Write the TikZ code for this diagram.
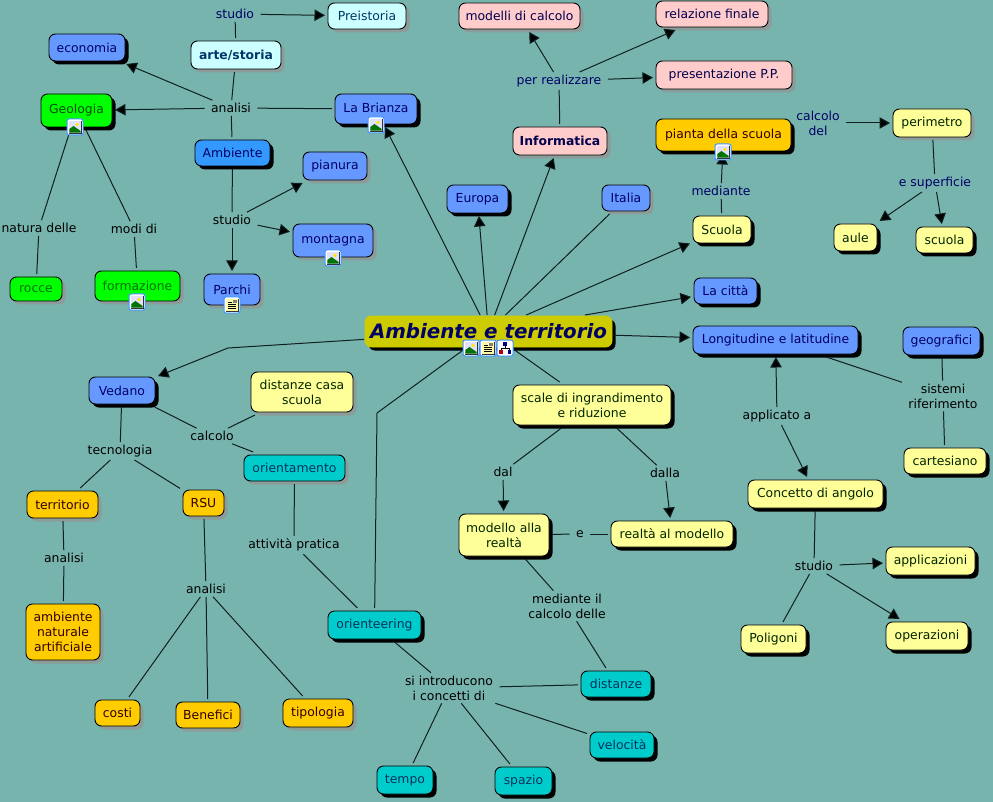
\documentclass[tikz,border=0pt]{standalone}
\usepackage{fontspec}
\setmainfont{DejaVu Sans}
\usetikzlibrary{arrows.meta,shadows}
\definecolor{bgteal}{HTML}{78B4AE}
\definecolor{gshadow}{HTML}{8C9C9A}
\definecolor{cblue}{HTML}{6699FF}
\definecolor{cdeep}{HTML}{3399FF}
\definecolor{cgreen}{HTML}{00FF00}
\definecolor{cyell}{HTML}{FFFF99}
\definecolor{corange}{HTML}{FFCC00}
\definecolor{cpink}{HTML}{FFCCCC}
\definecolor{cpale}{HTML}{CCFFFF}
\definecolor{cteal}{HTML}{00CCCC}
\definecolor{colive}{HTML}{CCCC00}
\definecolor{navy}{HTML}{000066}
\definecolor{lineink}{HTML}{102020}
\newcommand{\nodefont}{\fontsize{12.4}{15}\selectfont}
\tikzset{
  concept/.style={rectangle,rounded corners=6.5pt,draw=black,line width=0.9pt,inner sep=0pt,outer sep=3pt,align=center,font=\nodefont},
  gs/.style={general shadow={fill=gshadow,shadow xshift=3.5pt,shadow yshift=-3.5pt}},
  ks/.style={general shadow={fill=black,shadow xshift=3.5pt,shadow yshift=-3.5pt}},
  pblue/.style={fill=cblue,text=navy},
  pdeep/.style={fill=cdeep,text=navy},
  pgreen/.style={fill=cgreen,text=black!70!green},
  plgreen/.style={fill=cgreen,text=green!45!black},
  pyell/.style={fill=cyell,text=black!85!green},
  porange/.style={fill=corange,text=black!80!red},
  ppink/.style={fill=cpink,text=navy!75!black},
  ppale/.style={fill=cpale,text=navy!70!cyan!70!black},
  pteal/.style={fill=cteal,text=navy!50!teal!80!black},
  lbl/.style={inner xsep=5pt,inner ysep=1.5pt,outer sep=1.5pt,align=center,font=\nodefont,text=black},
  lbln/.style={lbl,text=navy},
  link/.style={draw=lineink,line width=1pt},
  arr/.style={link,-{Triangle[length=10.5pt,width=11.5pt,fill=black]}},
  pics/iconframe/.style={code={
    \fill[white,draw=blue!55!cyan!75,line width=1pt,rounded corners=2pt] (-8,-8) rectangle (8,8);
    \draw[black!80,line width=0.7pt,fill=white] (-6,-6) rectangle (6,6);
  }},
  pics/imgicon/.style={code={
    \pic {iconframe};
    \fill[blue!12] (-5.6,-5.6) rectangle (5.6,5.6);
    \fill[green!45!black] (-5.6,5.6) -- (-5.6,2) -- (-1.5,-1) -- (5.6,4) -- (5.6,5.6) -- cycle;
    \fill[yellow!90!orange] (2,-2.5) circle (1.8);
  }},
  pics/docicon/.style={code={
    \pic {iconframe};
    \fill[yellow!35] (-5.6,-5.6) rectangle (5.6,5.6);
    \foreach \yy in {-1,1,3}{\draw[black,line width=0.7pt] (-4,\yy) -- (4,\yy);}
    \draw[black,line width=0.7pt] (-4,-3) -- (-0.5,-3);
    \fill[gray] (0.5,-5) rectangle (4.5,-1.8);
  }},
  pics/treeicon/.style={code={
    \fill[white,draw=blue!55!cyan!75,line width=1pt,rounded corners=2pt] (-8,-8) rectangle (8,8);
    \draw[black,line width=0.6pt] (0,-3) -- (0,0) (-4,3) -- (-4,0) -- (4,0) -- (4,3);
    \fill[navy!80!blue] (-1.8,-6) rectangle (1.8,-2.5);
    \fill[red!70!black] (-6,2) rectangle (-2.5,5.5);
    \fill[navy!80!blue] (2.5,2) rectangle (6,5.5);
  }},
}
\newcommand{\cn}[7][]{\node[concept,#2,#1,minimum width={(#5-#3)*1pt},minimum height={(#6-#4)*1pt}] (#7) at ({(#3+#5)/2},{(#4+#6)/2})}
\newcommand{\up}[1]{\raisebox{1.5pt}{#1}}
\begin{document}
\begin{tikzpicture}[x=1pt,y=-1pt]
\fill[bgteal] (0,0) rectangle (993,802);
\useasboundingbox (0,0) rectangle (993,802);
% concepts
\cn[gs]{ppale}{328}{3}{406}{29}{preistoria} {Preistoria};
\cn[gs]{ppale,font=\nodefont\bfseries}{191}{41}{281}{69}{arte} {arte/storia};
\cn[ks]{pblue}{49}{34}{125}{61}{economia} {economia};
\cn[ks]{pgreen}{41}{94}{112}{127}{geologia} {\up{Geologia}};
\cn[ks]{pblue}{335}{94}{417}{124}{brianza} {\up{La Brianza}};
\cn[ks]{pdeep}{195}{140}{270}{166}{ambiente} {Ambiente};
\cn[gs]{pblue}{303}{152}{367}{180}{pianura} {pianura};
\cn[gs]{pblue}{293}{224}{373}{257}{montagna} {montagna};
\cn[gs]{pblue}{204}{274}{260}{305}{parchi} {Parchi};
\cn[gs]{plgreen}{10}{277}{62}{301}{rocce} {rocce};
\cn[gs]{plgreen}{95}{271}{180}{301}{formazione} {formazione};
\cn[gs]{ppink}{459}{3}{580}{29}{modelli} {modelli di calcolo};
\cn[gs]{ppink}{656}{1}{768}{27}{relazione} {relazione finale};
\cn[gs]{ppink}{656}{61}{792}{89}{presentazione} {presentazione P.P.};
\cn[gs]{ppink,font=\nodefont\bfseries}{513}{127}{607}{155}{informatica} {Informatica};
\cn[ks]{pblue}{447}{185}{508}{213}{europa} {Europa};
\cn[gs]{pblue}{602}{185}{650}{211}{italia} {Italia};
\cn[ks]{porange}{656}{119}{791}{151}{pianta} {\up{pianta della scuola}};
\cn[ks]{pyell}{693}{216}{751}{243}{scuolaA} {Scuola};
\cn[gs]{pyell}{893}{109}{971}{137}{perimetro} {perimetro};
\cn[ks]{pyell}{834}{224}{877}{251}{aule} {aule};
\cn[ks]{pyell}{916}{227}{973}{253}{scuolaB} {scuola};
\cn[ks]{pblue}{694}{278}{757}{304}{citta} {La città};
\cn[ks]{pblue}{693}{326}{858}{354}{longitudine} {Longitudine e latitudine};
\cn[ks]{pblue}{903}{327}{980}{355}{geografici} {geografici};
\cn[ks]{pblue}{89}{377}{155}{404}{vedano} {Vedano};
\cn[gs]{pyell}{251}{372}{353}{412}{casa} {distanze casa\\scuola};
\cn[gs]{pteal}{244}{455}{345}{481}{orientamento} {orientamento};
\cn[gs]{porange}{27}{491}{98}{518}{territorio} {territorio};
\cn[gs]{porange}{183}{490}{224}{516}{rsu} {RSU};
\cn[gs]{porange}{26}{604}{100}{660}{naturale} {ambiente\\naturale\\artificiale};
\cn[gs]{porange}{95}{700}{140}{726}{costi} {costi};
\cn[gs]{porange}{176}{702}{240}{728}{benefici} {Benefici};
\cn[gs]{porange}{283}{699}{353}{727}{tipologia} {tipologia};
\cn[ks]{pteal}{328}{611}{421}{639}{orienteering} {orienteering};
\cn[ks]{pyell}{513}{385}{671}{425}{scale} {scale di ingrandimento\\e riduzione};
\cn[ks]{pyell}{459}{514}{549}{556}{modello} {modello alla\\realtà};
\cn[ks]{pyell}{611}{521}{733}{547}{realta} {realtà al modello};
\cn[ks]{pteal}{581}{671}{651}{697}{distanze} {distanze};
\cn[ks]{pteal}{590}{732}{654}{758}{velocita} {velocità};
\cn[ks]{pteal}{377}{766}{433}{794}{tempo} {tempo};
\cn[ks]{pteal}{495}{767}{552}{795}{spazio} {spazio};
\cn[ks]{pyell}{748}{480}{883}{508}{angolo} {Concetto di angolo};
\cn[ks]{pyell}{904}{448}{986}{474}{cartesiano} {cartesiano};
\cn[ks]{pyell}{886}{547}{975}{575}{applicazioni} {applicazioni};
\cn[ks]{pyell}{886}{622}{968}{650}{operazioni} {operazioni};
\cn[ks]{pyell}{741}{625}{806}{653}{poligoni} {Poligoni};
\cn[ks]{colive,fill=colive,text=navy,outer sep=1pt,font=\fontsize{19.8}{22}\selectfont\bfseries\itshape}{365}{316}{612}{347}{main} {Ambiente e territorio};
% linking phrases
\node[lbln] (lstudioA) at (235,14) {studio};
\node[lbl] (lanalisiA) at (231,108) {analisi};
\node[lbl] (lnatura) at (39,228) {natura delle};
\node[lbl] (lmodi) at (134,229) {modi di};
\node[lbl] (lstudioB) at (232,220) {studio};
\node[lbln] (lrealizzare) at (559,81) {per realizzare};
\node[lbln] (lmediante) at (721,191) {mediante};
\node[lbln] (lcalcolodel) at (818,123) {calcolo\\del};
\node[lbln] (lsuperficie) at (935,183) {e superficie};
\node[lbl] (ltecnologia) at (120,451) {tecnologia};
\node[lbl] (lcalcolo) at (212,436) {calcolo};
\node[lbl] (lanalisiB) at (64,558) {analisi};
\node[lbl] (lanalisiC) at (206,589) {analisi};
\node[lbl] (lpratica) at (294,545) {attività pratica};
\node[lbl] (ldal) at (503,472) {dal};
\node[lbl] (ldalla) at (665,473) {dalla};
\node[lbl] (le) at (580,534) {e};
\node[lbl] (lmedianteil) at (567,606) {mediante il\\calcolo delle};
\node[lbl] (lintro) at (449,688) {si introducono\\i concetti di};
\node[lbl] (lapplicato) at (777,416) {applicato a};
\node[lbl] (lsistemi) at (943,396) {sistemi\\riferimento};
\node[lbl] (lstudioC) at (814,566) {studio};
\coordinate (bendV) at (228,348);
\coordinate (bendO) at (377,413);
% connectors
\draw[link] (arte) -- (lstudioA);
\draw[arr] (lstudioA) -- (preistoria);
\draw[link] (arte) -- (lanalisiA);
\draw[link] (brianza) -- (lanalisiA);
\draw[arr] (lanalisiA) -- (geologia);
\draw[arr] (lanalisiA) -- (economia);
\draw[link] (lanalisiA) -- (ambiente);
\draw[arr] (main) -- (brianza);
\draw[link] (ambiente) -- (lstudioB);
\draw[arr] (lstudioB) -- (pianura);
\draw[arr] (lstudioB) -- (montagna);
\draw[arr] (lstudioB) -- (parchi);
\draw[link] (geologia) -- (lnatura);
\draw[link] (lnatura) -- (rocce);
\draw[link] (geologia) -- (lmodi);
\draw[link] (lmodi) -- (formazione);
\draw[arr] (main) -- (informatica);
\draw[arr] (main) -- (europa);
\draw[link] (main) -- (italia);
\draw[arr] (main) -- (scuolaA);
\draw[arr] (main) -- (citta);
\draw[arr] (main) -- (longitudine);
\draw[link] (informatica) -- (lrealizzare);
\draw[arr] (lrealizzare) -- (modelli);
\draw[arr] (lrealizzare) -- (relazione);
\draw[arr] (lrealizzare) -- (presentazione);
\draw[link] (scuolaA) -- (lmediante);
\draw[arr] (lmediante) -- (pianta);
\draw[arr] (lcalcolodel) -- (perimetro);
\draw[link] (perimetro) -- (lsuperficie);
\draw[arr] (lsuperficie) -- (aule);
\draw[arr] (lsuperficie) -- (scuolaB);
\draw[link] (longitudine) -- (lsistemi);
\draw[link] (geografici) -- (lsistemi);
\draw[link] (lsistemi) -- (cartesiano);
\draw[arr] (lapplicato) -- (longitudine);
\draw[arr] (lapplicato) -- (angolo);
\draw[link] (angolo) -- (lstudioC);
\draw[arr] (lstudioC) -- (applicazioni);
\draw[arr] (lstudioC) -- (operazioni);
\draw[link] (lstudioC) -- (poligoni);
\draw[arr] (main) -- (bendV) -- (vedano);
\draw[link] (vedano) -- (ltecnologia);
\draw[link] (ltecnologia) -- (territorio);
\draw[link] (ltecnologia) -- (rsu);
\draw[link] (vedano) -- (lcalcolo);
\draw[link] (lcalcolo) -- (casa);
\draw[link] (lcalcolo) -- (orientamento);
\draw[link] (territorio) -- (lanalisiB);
\draw[link] (lanalisiB) -- (naturale);
\draw[link] (rsu) -- (lanalisiC);
\draw[link] (lanalisiC) -- (costi);
\draw[link] (lanalisiC) -- (benefici);
\draw[link] (lanalisiC) -- (tipologia);
\draw[link] (orientamento) -- (lpratica);
\draw[link] (lpratica) -- (orienteering);
\draw[link] (main) -- (bendO) -- (orienteering);
\draw[link] (orienteering) -- (lintro);
\draw[link] (lintro) -- (distanze);
\draw[link] (lintro) -- (velocita);
\draw[link] (lintro) -- (tempo);
\draw[link] (lintro) -- (spazio);
\draw[link] (main) -- (scale);
\draw[link] (scale) -- (ldal);
\draw[arr] (ldal) -- (modello);
\draw[link] (scale) -- (ldalla);
\draw[arr] (ldalla) -- (realta);
\draw[link] (modello) -- (le);
\draw[link] (le) -- (realta);
\draw[link] (modello) -- (lmedianteil);
\draw[link] (lmedianteil) -- (distanze);
% icons
\pic at (75,127) {imgicon};
\pic at (376,125) {imgicon};
\pic at (333,258) {imgicon};
\pic at (137,302) {imgicon};
\pic at (232,305) {docicon};
\pic at (723,152) {imgicon};
\pic at (471,348) {imgicon};
\pic at (488,348) {docicon};
\pic at (505,348) {treeicon};
\end{tikzpicture}
\end{document}
